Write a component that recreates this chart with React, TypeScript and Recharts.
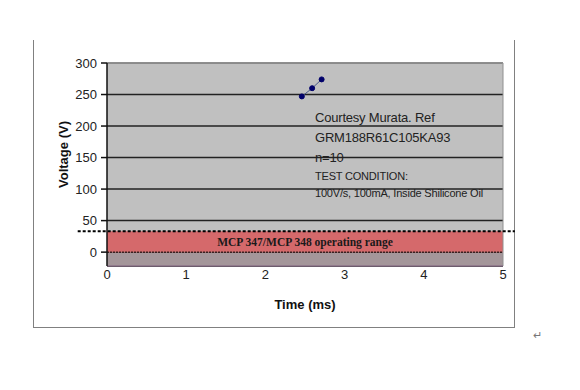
import React from 'react'
import {
  ComposedChart,
  Line,
  XAxis,
  YAxis,
  CartesianGrid,
  ReferenceArea,
  ReferenceLine,
} from 'recharts'

// measured points (ms, V)
const timeMs = [2.46, 2.59, 2.71]
const voltage = [247, 260, 274]

const xTicks = [0, 1, 2, 3, 4, 5]
const yTicks = [0, 50, 100, 150, 200, 250, 300]

// operating range band of the part
const rangeTop = 33
const yMin = -22

const noteLines = [
  'Courtesy Murata. Ref',
  'GRM188R61C105KA93',
  'n=10',
]
const testLines = ['TEST CONDITION:', '100V/s, 100mA, Inside Shilicone Oil']

const data = timeMs.map((t, i) => ({ t, v: voltage[i] }))

const font = "'Liberation Sans', Arial, sans-serif"

export default function App() {
  return (
    <div style={{ position: 'absolute', left: 0, top: 0, width: 580, height: 390, background: '#fff' }}>
      {/* outer frame, top edge is cut off */}
      <div
        style={{
          position: 'absolute',
          left: 33,
          top: 40,
          width: 480,
          height: 287,
          borderLeft: '1px solid #808080',
          borderRight: '1px solid #808080',
          borderBottom: '1px solid #808080',
        }}
      />
      <ComposedChart
        width={580}
        height={390}
        data={data}
        margin={{ top: 63, right: 77, bottom: 79, left: 0 }}
        style={{ position: 'absolute', left: 0, top: 0 }}
      >
        <CartesianGrid vertical={false} stroke='#222' strokeWidth={1.5} fill='#c0c0c0' />
        <XAxis
          type='number'
          dataKey='t'
          domain={[0, 5]}
          ticks={xTicks}
          tickLine={false}
          tickSize={0}
          tickMargin={4}
          height={45}
          stroke='#806080'
          tick={{ fill: '#222', fontSize: 13, fontFamily: font }}
          label={{
            value: 'Time (ms)',
            position: 'insideBottom',
            offset: 2,
            fill: '#111',
            fontSize: 13,
            fontWeight: 'bold',
            fontFamily: font,
          }}
        />
        <YAxis
          type='number'
          domain={[yMin, 300]}
          ticks={yTicks}
          width={107}
          tickSize={6}
          tickMargin={4}
          stroke='#111'
          strokeWidth={1.5}
          tick={{ fill: '#222', fontSize: 13, fontFamily: font }}
          label={{
            content: ({ viewBox }: any) => {
              const cx = viewBox.x + 63
              const cy = viewBox.y + viewBox.height / 2 - 10
              return (
                <text
                  x={cx}
                  y={cy}
                  transform={`rotate(-90, ${cx}, ${cy})`}
                  textAnchor='middle'
                  dominantBaseline='central'
                  fill='#111'
                  fontSize={13}
                  fontWeight='bold'
                  fontFamily={font}
                >
                  Voltage (V)
                </text>
              )
            },
          }}
        />
        <ReferenceArea y1={yMin} y2={0} fill='#a4969a' fillOpacity={1} stroke='none' />
        <ReferenceArea
          y1={0}
          y2={rangeTop}
          fill='#d5696b'
          fillOpacity={1}
          stroke='none'
          label={{
            value: 'MCP 347/MCP 348 operating range',
            position: 'center',
            fill: '#1a1a1a',
            fontSize: 11.5,
            fontWeight: 'bold',
            fontFamily: "'Liberation Serif', 'Times New Roman', serif",
          }}
        />
        <ReferenceLine y={0} stroke='#3a2020' strokeDasharray='2 1' strokeWidth={1.5} />
        <ReferenceLine x={5} stroke='#909090' strokeWidth={1} />
        <ReferenceLine y={300} stroke='#a0a0a0' strokeWidth={1.5} />
        <ReferenceLine
          segment={[
            { x: -0.37, y: rangeTop },
            { x: 5.15, y: rangeTop },
          ]}
          ifOverflow='visible'
          stroke='#000'
          strokeWidth={2}
          strokeDasharray='3 2'
        />
        <Line
          type='linear'
          dataKey='v'
          stroke='#4a5a8a'
          strokeWidth={1}
          dot={{ r: 2.5, fill: '#00006a', stroke: '#00006a' }}
          isAnimationActive={false}
        />
      </ComposedChart>
      {/* annotation box */}
      <div
        style={{
          position: 'absolute',
          left: 315,
          top: 108,
          fontFamily: font,
          color: '#222',
          letterSpacing: -0.2,
          lineHeight: '20px',
          fontSize: 13,
          whiteSpace: 'nowrap',
        }}
      >
        {noteLines.map((s) => (
          <div key={s}>{s}</div>
        ))}
        {testLines.map((s) => (
          <div key={s} style={{ fontSize: 11, lineHeight: '17px', letterSpacing: -0.2 }}>
            {s}
          </div>
        ))}
      </div>
      <div style={{ position: 'absolute', left: 533, top: 329, fontSize: 11, color: '#777', fontFamily: font }}>
        ↵
      </div>
    </div>
  )
}
